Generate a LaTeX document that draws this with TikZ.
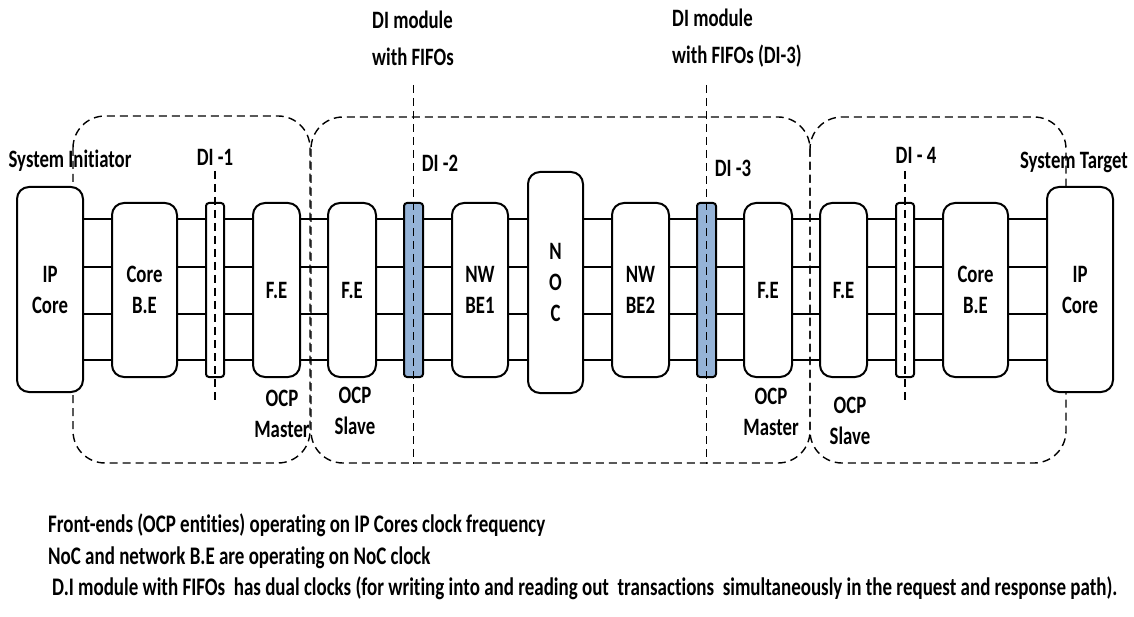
\documentclass[tikz,border=0pt]{standalone}
\usepackage{fontspec}
\setmainfont{Carlito}[FakeStretch=0.75,Ligatures=NoCommon]
\usepackage{tikz}
\usetikzlibrary{calc,positioning}

\definecolor{fifoblue}{RGB}{149,179,215}

\tikzset{
  blk/.style={draw,line width=2pt,fill=white,rounded corners=12pt,
    inner sep=0pt,align=center},
  fifo/.style={blk,fill=fifoblue,rounded corners=3pt},
  wire/.style={line width=2pt},
  zone/.style={dash pattern=on 8pt off 5pt,line width=1.4pt,rounded corners=32pt},
  dimark/.style={dash pattern=on 8pt off 5pt,line width=1.4pt},
  lbl/.style={inner sep=0pt,align=center}
}

\begin{document}
\begin{tikzpicture}[x=1pt,y=-1pt,
          every node/.style={font=\fontsize{25}{31}\selectfont\bfseries}]
        \useasboundingbox (0,0) rectangle (1134,617);
        % clock domains
        \draw[zone] (73,116) rectangle (310,463);
        \draw[zone] (311,117) rectangle (810,463);
        \draw[zone] (810,117) rectangle (1066,463);
        % initiator side
        \node[blk,minimum width=66pt,minimum height=205pt] (ipl) at (50,289.5) {IP\\Core};
        \node[blk,minimum width=65pt,minimum height=174pt] (cbel) at (144.5,290) {Core\\B.E};
        \node[blk,minimum width=18pt,minimum height=174pt,rounded corners=3pt] (di1) at (215,290) {};
        \node[blk,minimum width=47pt,minimum height=174pt] (fem) at (276.5,290) {F.E};
        \node[blk,minimum width=48pt,minimum height=174pt] (fes) at (352,290) {F.E};
        % network side
        \node[fifo,minimum width=19pt,minimum height=174pt] (di2) at (413.5,290) {};
        \node[blk,minimum width=56pt,minimum height=174pt] (nw1) at (480,290) {NW\\BE1};
        \node[blk,minimum width=55pt,minimum height=221pt] (noc) at (555.5,282.5) {N\\O\\C};
        \node[blk,minimum width=57pt,minimum height=174pt] (nw2) at (640.5,290) {NW\\BE2};
        \node[fifo,minimum width=19pt,minimum height=174pt] (di3) at (706.5,290) {};
        % target side
        \node[blk,minimum width=48pt,minimum height=174pt] (fem2) at (768,290) {F.E};
        \node[blk,minimum width=47pt,minimum height=174pt] (fes2) at (843.5,290) {F.E};
        \node[blk,minimum width=18pt,minimum height=174pt,rounded corners=3pt] (di4) at (905,290) {};
        \node[blk,minimum width=65pt,minimum height=174pt] (cber) at (975.5,290) {Core\\B.E};
        \node[blk,minimum width=66pt,minimum height=205pt] (ipr) at (1080,289.5) {IP\\Core};
        % four wires between neighbours
        \foreach \a/\b in {ipl/cbel,cbel/di1,di1/fem,fem/fes,fes/di2,di2/nw1,nw1/noc,
            noc/nw2,nw2/di3,di3/fem2,fem2/fes2,fes2/di4,di4/cber,cber/ipr}
          \foreach \y in {219,267,314,360}
            \draw[wire] (\a.east |- 0,\y) -- (\b.west |- 0,\y);
        % DI cut lines
        \draw[dimark] ($(di1.north)+(0,-31)$) -- ($(di1.south)+(0,26)$);
        \draw[dimark] ($(di2.north)+(0,-117)$) -- ($(di2.south)+(0,86)$);
        \draw[dimark] ($(di3.north)+(0,-117)$) -- ($(di3.south)+(0,86)$);
        \draw[dimark] ($(di4.north)+(0,-31)$) -- ($(di4.south)+(0,25)$);
        % labels
        \node[lbl] (sysi) at (70,161) {System Initiator};
        \node[lbl] (dil1) at (215,157) {DI -1};
        \node[lbl,align=left,anchor=west,
          font=\fontsize{25}{37}\selectfont\bfseries] (dim1) at (372,38.5) {DI module\\with FIFOs};
        \node[lbl] (dil2) at (440,163) {DI -2};
        \node[lbl,align=left,anchor=west,
          font=\fontsize{25}{37}\selectfont\bfseries] (dim2) at (672,38.5) {DI module\\with FIFOs (DI-3)};
        \node[lbl] (dil3) at (733,168) {DI -3};
        \node[lbl] (dil4) at (916,155) {DI - 4};
        \node[lbl] (syst) at (1074,162) {System Target};
        \node[lbl] (ocpm1) at (282,414) {OCP\\Master};
        \node[lbl] (ocps1) at (355,411) {OCP\\Slave};
        \node[lbl] (ocpm2) at (771,412) {OCP\\Master};
        \node[lbl] (ocps2) at (850,421) {OCP\\Slave};
        % notes
        \node[lbl,align=left,anchor=north west,
          font=\fontsize{25.3}{31.5}\selectfont\bfseries] (notes) at (48,514)
          {Front-ends (OCP entities) operating on IP Cores clock frequency\\
           NoC and network B.E are operating on NoC clock\\
           \hspace{4pt}D.I module with FIFOs\ \ has dual clocks (for writing into and reading out\ \ transactions\ \ simultaneously in the request and response path).};
      \end{tikzpicture}
\end{document}
